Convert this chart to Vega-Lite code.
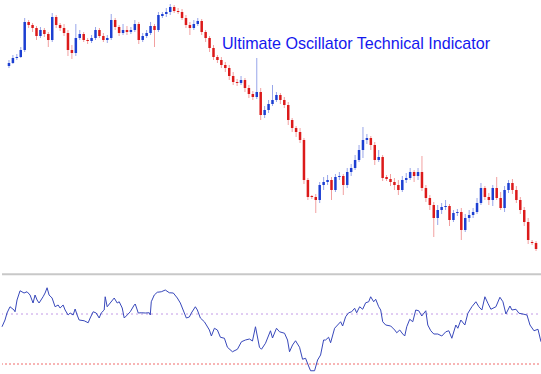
{
  "$schema": "https://vega.github.io/schema/vega-lite/v6.json",
  "padding": 0,
  "spacing": 0,
  "background": "white",
  "config": {"view": {"stroke": null}},
  "datasets": {
    "px": [
      {"i":0,"o":1234,"h":1240,"l":1232,"c":1237},{"i":1,"o":1237,"h":1245,"l":1236,"c":1242},{"i":2,"o":1242,"h":1246,"l":1240,"c":1243},{"i":3,"o":1243,"h":1253,"l":1242,"c":1250},{"i":4,"o":1250,"h":1282,"l":1248,"c":1278},
      {"i":5,"o":1278,"h":1280,"l":1272,"c":1275},{"i":6,"o":1275,"h":1277,"l":1268,"c":1272},{"i":7,"o":1272,"h":1274,"l":1260,"c":1264},{"i":8,"o":1264,"h":1273,"l":1262,"c":1270},{"i":9,"o":1270,"h":1272,"l":1263,"c":1266},
      {"i":10,"o":1266,"h":1268,"l":1253,"c":1260},{"i":11,"o":1260,"h":1287,"l":1258,"c":1283},{"i":12,"o":1283,"h":1285,"l":1272,"c":1275},{"i":13,"o":1275,"h":1277,"l":1269,"c":1272},{"i":14,"o":1272,"h":1276,"l":1264,"c":1267},
      {"i":15,"o":1267,"h":1270,"l":1244,"c":1250},{"i":16,"o":1250,"h":1255,"l":1241,"c":1247},{"i":17,"o":1247,"h":1276,"l":1244,"c":1262},{"i":18,"o":1262,"h":1270,"l":1260,"c":1266},{"i":19,"o":1266,"h":1268,"l":1258,"c":1260},
      {"i":20,"o":1260,"h":1262,"l":1256,"c":1259},{"i":21,"o":1259,"h":1265,"l":1257,"c":1262},{"i":22,"o":1262,"h":1273,"l":1260,"c":1270},{"i":23,"o":1270,"h":1272,"l":1262,"c":1264},{"i":24,"o":1264,"h":1267,"l":1258,"c":1260},
      {"i":25,"o":1260,"h":1265,"l":1257,"c":1262},{"i":26,"o":1262,"h":1286,"l":1260,"c":1280},{"i":27,"o":1280,"h":1282,"l":1270,"c":1273},{"i":28,"o":1273,"h":1275,"l":1264,"c":1267},{"i":29,"o":1267,"h":1276,"l":1265,"c":1270},
      {"i":30,"o":1270,"h":1274,"l":1265,"c":1268},{"i":31,"o":1268,"h":1273,"l":1266,"c":1270},{"i":32,"o":1270,"h":1280,"l":1268,"c":1276},{"i":33,"o":1276,"h":1278,"l":1256,"c":1260},{"i":34,"o":1260,"h":1267,"l":1258,"c":1264},
      {"i":35,"o":1264,"h":1270,"l":1262,"c":1267},{"i":36,"o":1267,"h":1278,"l":1265,"c":1274},{"i":37,"o":1274,"h":1276,"l":1253,"c":1270},{"i":38,"o":1270,"h":1288,"l":1268,"c":1285},{"i":39,"o":1284,"h":1288,"l":1282,"c":1286},
      {"i":40,"o":1286,"h":1292,"l":1283,"c":1288},{"i":41,"o":1288,"h":1296,"l":1285,"c":1293},{"i":42,"o":1293,"h":1295,"l":1287,"c":1289},{"i":43,"o":1289,"h":1292,"l":1286,"c":1288},{"i":44,"o":1288,"h":1291,"l":1280,"c":1282},
      {"i":45,"o":1282,"h":1285,"l":1272,"c":1275},{"i":46,"o":1275,"h":1278,"l":1265,"c":1272},{"i":47,"o":1272,"h":1280,"l":1270,"c":1276},{"i":48,"o":1276,"h":1282,"l":1274,"c":1279},{"i":49,"o":1279,"h":1281,"l":1265,"c":1268},
      {"i":50,"o":1268,"h":1270,"l":1258,"c":1262},{"i":51,"o":1262,"h":1264,"l":1248,"c":1252},{"i":52,"o":1252,"h":1255,"l":1240,"c":1243},{"i":53,"o":1243,"h":1245,"l":1237,"c":1240},{"i":54,"o":1240,"h":1243,"l":1232,"c":1235},
      {"i":55,"o":1235,"h":1238,"l":1228,"c":1232},{"i":56,"o":1232,"h":1235,"l":1220,"c":1224},{"i":57,"o":1224,"h":1228,"l":1215,"c":1218},{"i":58,"o":1218,"h":1221,"l":1214,"c":1217},{"i":59,"o":1217,"h":1224,"l":1215,"c":1220},
      {"i":60,"o":1220,"h":1222,"l":1208,"c":1212},{"i":61,"o":1212,"h":1215,"l":1202,"c":1206},{"i":62,"o":1206,"h":1209,"l":1200,"c":1203},{"i":63,"o":1203,"h":1242,"l":1201,"c":1208},{"i":64,"o":1208,"h":1212,"l":1180,"c":1185},
      {"i":65,"o":1185,"h":1194,"l":1182,"c":1190},{"i":66,"o":1190,"h":1200,"l":1187,"c":1196},{"i":67,"o":1196,"h":1215,"l":1194,"c":1200},{"i":68,"o":1200,"h":1208,"l":1198,"c":1205},{"i":69,"o":1205,"h":1207,"l":1196,"c":1200},
      {"i":70,"o":1200,"h":1203,"l":1192,"c":1195},{"i":71,"o":1195,"h":1198,"l":1175,"c":1180},{"i":72,"o":1180,"h":1182,"l":1168,"c":1172},{"i":73,"o":1172,"h":1174,"l":1163,"c":1168},{"i":74,"o":1168,"h":1172,"l":1157,"c":1160},
      {"i":75,"o":1160,"h":1162,"l":1116,"c":1120},{"i":76,"o":1120,"h":1122,"l":1100,"c":1103},{"i":77,"o":1104,"h":1105,"l":1101,"c":1103},{"i":78,"o":1103,"h":1106,"l":1087,"c":1100},{"i":79,"o":1100,"h":1118,"l":1097,"c":1115},
      {"i":80,"o":1115,"h":1123,"l":1110,"c":1118},{"i":81,"o":1118,"h":1125,"l":1115,"c":1120},{"i":82,"o":1120,"h":1123,"l":1100,"c":1110},{"i":83,"o":1110,"h":1126,"l":1108,"c":1123},{"i":84,"o":1123,"h":1128,"l":1120,"c":1124},
      {"i":85,"o":1124,"h":1126,"l":1105,"c":1115},{"i":86,"o":1115,"h":1132,"l":1112,"c":1128},{"i":87,"o":1128,"h":1136,"l":1124,"c":1132},{"i":88,"o":1132,"h":1145,"l":1130,"c":1140},{"i":89,"o":1140,"h":1155,"l":1138,"c":1150},
      {"i":90,"o":1150,"h":1173,"l":1142,"c":1160},{"i":91,"o":1160,"h":1166,"l":1156,"c":1162},{"i":92,"o":1162,"h":1164,"l":1150,"c":1155},{"i":93,"o":1155,"h":1158,"l":1135,"c":1140},{"i":94,"o":1140,"h":1150,"l":1138,"c":1143},
      {"i":95,"o":1143,"h":1145,"l":1119,"c":1122},{"i":96,"o":1123,"h":1125,"l":1119,"c":1121},{"i":97,"o":1121,"h":1126,"l":1114,"c":1118},{"i":98,"o":1118,"h":1122,"l":1110,"c":1115},{"i":99,"o":1115,"h":1120,"l":1105,"c":1110},
      {"i":100,"o":1110,"h":1124,"l":1108,"c":1120},{"i":101,"o":1120,"h":1127,"l":1117,"c":1122},{"i":102,"o":1122,"h":1132,"l":1120,"c":1128},{"i":103,"o":1128,"h":1130,"l":1118,"c":1124},{"i":104,"o":1124,"h":1132,"l":1120,"c":1128},
      {"i":105,"o":1128,"h":1144,"l":1109,"c":1112},{"i":106,"o":1112,"h":1115,"l":1098,"c":1102},{"i":107,"o":1102,"h":1105,"l":1090,"c":1095},{"i":108,"o":1095,"h":1098,"l":1063,"c":1082},{"i":109,"o":1082,"h":1095,"l":1075,"c":1090},
      {"i":110,"o":1090,"h":1097,"l":1086,"c":1093},{"i":111,"o":1093,"h":1100,"l":1090,"c":1094},{"i":112,"o":1094,"h":1096,"l":1074,"c":1080},{"i":113,"o":1080,"h":1090,"l":1078,"c":1087},{"i":114,"o":1087,"h":1091,"l":1084,"c":1088},
      {"i":115,"o":1088,"h":1092,"l":1060,"c":1070},{"i":116,"o":1070,"h":1086,"l":1068,"c":1082},{"i":117,"o":1082,"h":1090,"l":1078,"c":1085},{"i":118,"o":1085,"h":1092,"l":1082,"c":1088},{"i":119,"o":1088,"h":1102,"l":1086,"c":1097},
      {"i":120,"o":1097,"h":1117,"l":1095,"c":1112},{"i":121,"o":1112,"h":1114,"l":1100,"c":1103},{"i":122,"o":1103,"h":1107,"l":1095,"c":1100},{"i":123,"o":1100,"h":1115,"l":1094,"c":1112},{"i":124,"o":1112,"h":1123,"l":1100,"c":1102},
      {"i":125,"o":1102,"h":1108,"l":1090,"c":1092},{"i":126,"o":1092,"h":1114,"l":1088,"c":1110},{"i":127,"o":1110,"h":1120,"l":1107,"c":1117},{"i":128,"o":1117,"h":1121,"l":1106,"c":1110},{"i":129,"o":1110,"h":1114,"l":1097,"c":1100},
      {"i":130,"o":1100,"h":1103,"l":1086,"c":1090},{"i":131,"o":1090,"h":1093,"l":1074,"c":1078},{"i":132,"o":1078,"h":1082,"l":1056,"c":1060},{"i":133,"o":1058,"h":1060,"l":1055,"c":1057},{"i":134,"o":1057,"h":1059,"l":1049,"c":1051}
    ],
    "uo": [
      {"i":-0.5,"v":59.8},{"i":0.25,"v":65.2},{"i":0.75,"v":70.8},{"i":1.5,"v":75.8},{"i":2.5,"v":73.2},{"i":2.75,"v":71.8},{"i":3.25,"v":81.2},{"i":4,"v":88.6},{"i":5,"v":86.8},{"i":5.75,"v":87.8},
      {"i":6.5,"v":85.2},{"i":7.25,"v":78.8},{"i":7.75,"v":85.2},{"i":8.25,"v":81.2},{"i":8.75,"v":78.8},{"i":9.75,"v":83.8},{"i":10.25,"v":86.8},{"i":10.75,"v":91.0},{"i":11.25,"v":85.2},{"i":12,"v":82.8},
      {"i":12.75,"v":75.8},{"i":13.5,"v":77.2},{"i":14,"v":74.8},{"i":14.75,"v":77.2},{"i":15.25,"v":73.2},{"i":16,"v":69.2},{"i":16.5,"v":70.8},{"i":17.25,"v":69.2},{"i":17.75,"v":74.0},{"i":18.25,"v":69.2},
      {"i":18.75,"v":65.2},{"i":20,"v":64.6},{"i":21,"v":63.0},{"i":21.5,"v":66.8},{"i":22.25,"v":71.8},{"i":23,"v":70.8},{"i":23.75,"v":66.8},{"i":24.25,"v":70.8},{"i":25,"v":73.2},{"i":25.25,"v":83.8},
      {"i":25.75,"v":75.8},{"i":26.5,"v":78.8},{"i":27.5,"v":82.8},{"i":28.25,"v":78.8},{"i":28.75,"v":79.8},{"i":29.5,"v":74.8},{"i":30,"v":66.8},{"i":30.75,"v":69.2},{"i":31.5,"v":71.8},{"i":32.5,"v":77.2},
      {"i":32.75,"v":78.0},{"i":33.5,"v":70.8},{"i":34.25,"v":71.0},{"i":35.25,"v":70.8},{"i":36.25,"v":71.0},{"i":36.5,"v":69.2},{"i":36.75,"v":79.8},{"i":37.5,"v":85.2},{"i":38.25,"v":87.4},{"i":39.25,"v":87.8},
      {"i":40.25,"v":89.2},{"i":41.25,"v":87.0},{"i":42.25,"v":86.8},{"i":43.25,"v":82.8},{"i":44,"v":78.8},{"i":45,"v":70.8},{"i":45.5,"v":66.8},{"i":46.25,"v":67.6},{"i":46.75,"v":70.8},{"i":47.75,"v":75.8},
      {"i":48.25,"v":73.2},{"i":49,"v":66.8},{"i":50,"v":63.8},{"i":50.5,"v":61.2},{"i":51.25,"v":57.2},{"i":51.75,"v":52.4},{"i":52.5,"v":58.6},{"i":53.25,"v":57.2},{"i":54,"v":51.4},{"i":55,"v":50.6},
      {"i":55.75,"v":43.4},{"i":57,"v":39.8},{"i":58.25,"v":41.8},{"i":59.25,"v":47.8},{"i":60.25,"v":49.2},{"i":61.25,"v":50.0},{"i":62,"v":48.4},{"i":62.75,"v":59.8},{"i":63.75,"v":43.4},{"i":64.25,"v":41.8},
      {"i":65.25,"v":46.6},{"i":66.5,"v":56.6},{"i":67,"v":50.8},{"i":68,"v":58.6},{"i":68.75,"v":55.8},{"i":70,"v":54.6},{"i":70.75,"v":49.2},{"i":71.25,"v":39.8},{"i":72,"v":45.2},{"i":72.75,"v":48.6},
      {"i":73.75,"v":43.4},{"i":74.5,"v":33.8},{"i":75.25,"v":34.6},{"i":76,"v":28.4},{"i":76.5,"v":24.6},{"i":77.5,"v":24.6},{"i":78.25,"v":33.2},{"i":79,"v":37.2},{"i":79.75,"v":49.2},{"i":80.25,"v":49.2},
      {"i":81,"v":51.4},{"i":81.5,"v":47.0},{"i":82.5,"v":58.6},{"i":83.25,"v":61.2},{"i":84,"v":63.8},{"i":84.5,"v":60.4},{"i":85.25,"v":67.8},{"i":86,"v":71.0},{"i":86.75,"v":71.8},{"i":87.5,"v":74.6},
      {"i":88,"v":71.0},{"i":88.75,"v":75.8},{"i":89.5,"v":73.8},{"i":90.25,"v":79.0},{"i":91,"v":79.8},{"i":91.5,"v":83.8},{"i":92.25,"v":79.8},{"i":92.75,"v":81.8},{"i":93.5,"v":75.8},{"i":94,"v":73.2},
      {"i":94.5,"v":63.8},{"i":95.25,"v":61.2},{"i":96.5,"v":60.4},{"i":97.5,"v":57.2},{"i":98,"v":55.0},{"i":98.75,"v":57.2},{"i":99.5,"v":54.0},{"i":100,"v":52.4},{"i":100.5,"v":59.8},{"i":101.25,"v":65.8},
      {"i":102,"v":63.8},{"i":102.75,"v":73.2},{"i":103.5,"v":72.6},{"i":104.25,"v":68.4},{"i":105.25,"v":72.6},{"i":105.75,"v":61.2},{"i":106.5,"v":56.6},{"i":107.25,"v":54.0},{"i":108.25,"v":54.0},{"i":109.25,"v":52.4},
      {"i":110.25,"v":55.8},{"i":111,"v":56.6},{"i":111.75,"v":50.6},{"i":112.75,"v":61.2},{"i":113.25,"v":58.6},{"i":114,"v":65.2},{"i":115,"v":61.2},{"i":115.75,"v":70.6},{"i":116.75,"v":75.8},{"i":117.75,"v":79.8},
      {"i":118.5,"v":75.8},{"i":119.25,"v":73.2},{"i":120,"v":83.8},{"i":120.75,"v":78.6},{"i":121.5,"v":73.8},{"i":122.75,"v":75.8},{"i":123.75,"v":83.4},{"i":124.5,"v":79.8},{"i":125.25,"v":70.0},{"i":126.25,"v":76.4},
      {"i":126.75,"v":73.2},{"i":127.75,"v":73.8},{"i":128.5,"v":70.6},{"i":129.75,"v":69.8},{"i":130.5,"v":69.2},{"i":131.25,"v":61.2},{"i":132.25,"v":56.6},{"i":133.25,"v":57.8},{"i":134,"v":47.8},{"i":134.5,"v":47.0}
    ]
  },
  "vconcat": [
    {
      "width": 541,
      "height": 273,
      "layer": [
        {
          "data": {"name": "px"},
          "mark": {"type": "rule", "strokeWidth": 1},
          "encoding": {
            "x": {"field": "i", "type": "quantitative", "axis": null, "scale": {"domain": [-0.5, 134.5], "nice": false, "zero": false}},
            "y": {"field": "l", "type": "quantitative", "axis": null, "scale": {"domain": [1027, 1300], "nice": false, "zero": false}},
            "y2": {"field": "h"},
            "color": {"condition": {"test": "datum.c > datum.o", "value": "#98a6ea"}, "value": "#f2a0a0"}
          }
        },
        {
          "data": {"name": "px"},
          "mark": {"type": "bar", "width": 2.5},
          "encoding": {
            "x": {"field": "i", "type": "quantitative"},
            "y": {"field": "o", "type": "quantitative"},
            "y2": {"field": "c"},
            "color": {"condition": {"test": "datum.c > datum.o", "value": "#1c3fd2"}, "value": "#dc1a1a"}
          }
        },
        {
          "data": {"values": [{"label": "Ultimate Oscillator Technical Indicator"}]},
          "mark": {"type": "text", "align": "left", "baseline": "alphabetic", "font": "Liberation Sans", "fontSize": 16.1, "color": "#1418ee"},
          "encoding": {
            "text": {"field": "label"},
            "x": {"datum": 54.15},
            "y": {"datum": 1250.7}
          }
        }
      ]
    },
    {
      "width": 541,
      "height": 101,
      "layer": [
        {
          "data": {"values": [{"lvl": 101.9}]},
          "mark": {"type": "rule", "color": "#c8c8c8", "strokeWidth": 2},
          "encoding": {"y": {"field": "lvl", "type": "quantitative", "axis": null, "scale": {"domain": [22, 102.8], "nice": false, "zero": false}}}
        },
        {
          "data": {"values": [{"lvl": 70}]},
          "mark": {"type": "rule", "color": "#c39ae6", "strokeWidth": 1, "strokeDash": [2, 3]},
          "encoding": {"y": {"field": "lvl", "type": "quantitative"}}
        },
        {
          "data": {"values": [{"lvl": 30}]},
          "mark": {"type": "rule", "color": "#f06a6a", "strokeWidth": 1, "strokeDash": [2, 2]},
          "encoding": {"y": {"field": "lvl", "type": "quantitative"}}
        },
        {
          "data": {"name": "uo"},
          "mark": {"type": "line", "color": "#3848bb", "strokeWidth": 1},
          "encoding": {
            "x": {"field": "i", "type": "quantitative", "axis": null, "scale": {"domain": [-0.5, 134.5], "nice": false, "zero": false}},
            "y": {"field": "v", "type": "quantitative"}
          }
        }
      ]
    }
  ]
}
